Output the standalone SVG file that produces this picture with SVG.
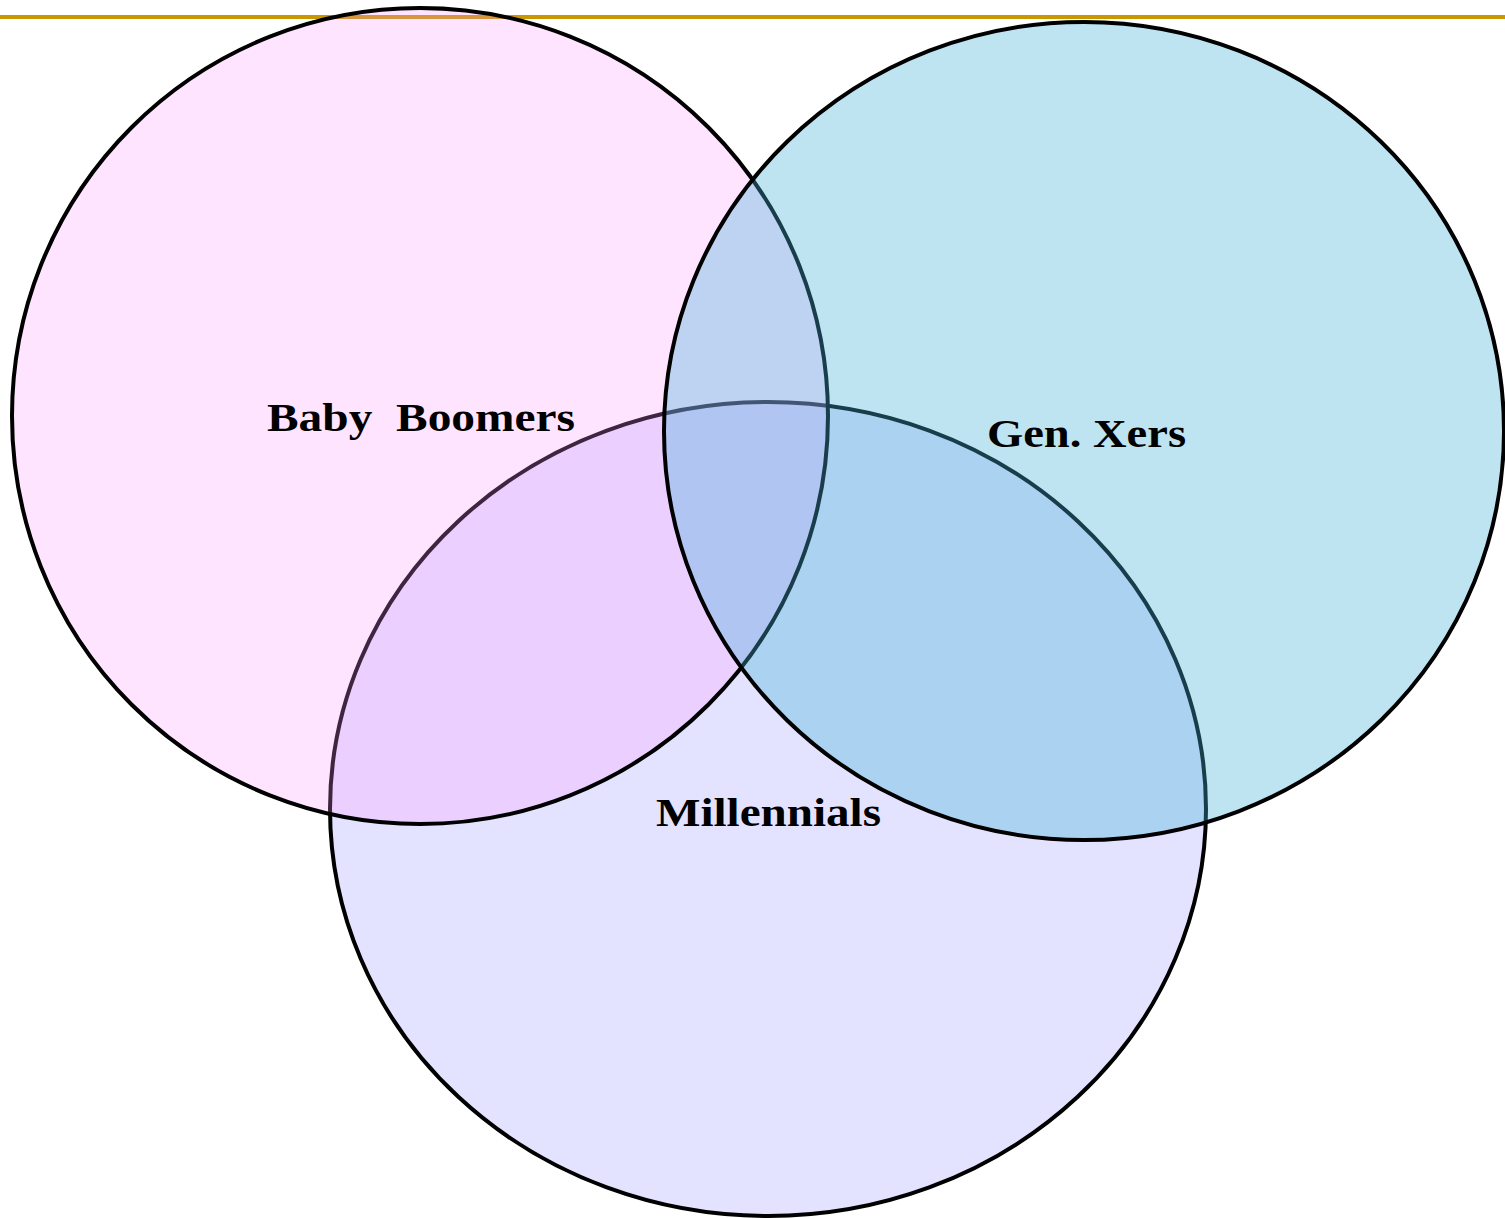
<svg xmlns="http://www.w3.org/2000/svg" width="1505" height="1219" viewBox="0 0 1505 1219">
<style>
.c{stroke:#000;stroke-width:4}
.t{font-family:"Liberation Serif","Times New Roman",serif;font-weight:bold;font-size:40px;fill:#000}
</style>
<rect width="1505" height="1219" fill="#fff"/>
<line x1="0" y1="17" x2="1505" y2="17" stroke="#C99700" stroke-width="4"/>
<g id="millennials">
<ellipse class="c" cx="768" cy="809" rx="438" ry="407" fill="#E3E3FF"/>
</g>
<g id="baby-boomers">
<ellipse class="c" cx="420" cy="416" rx="408" ry="408" fill="#FF93FF" fill-opacity="0.25"/>
</g>
<g id="gen-xers">
<ellipse class="c" cx="1084" cy="431" rx="420" ry="409" fill="#45B2DA" fill-opacity="0.35"/>
</g>
<g id="labels">
<text class="t" x="267" y="431" textLength="308" lengthAdjust="spacingAndGlyphs" xml:space="preserve">Baby  Boomers</text>
<text class="t" x="987" y="447" textLength="199" lengthAdjust="spacingAndGlyphs">Gen. Xers</text>
<text class="t" x="656" y="826" textLength="225" lengthAdjust="spacingAndGlyphs">Millennials</text>
</g>
</svg>
